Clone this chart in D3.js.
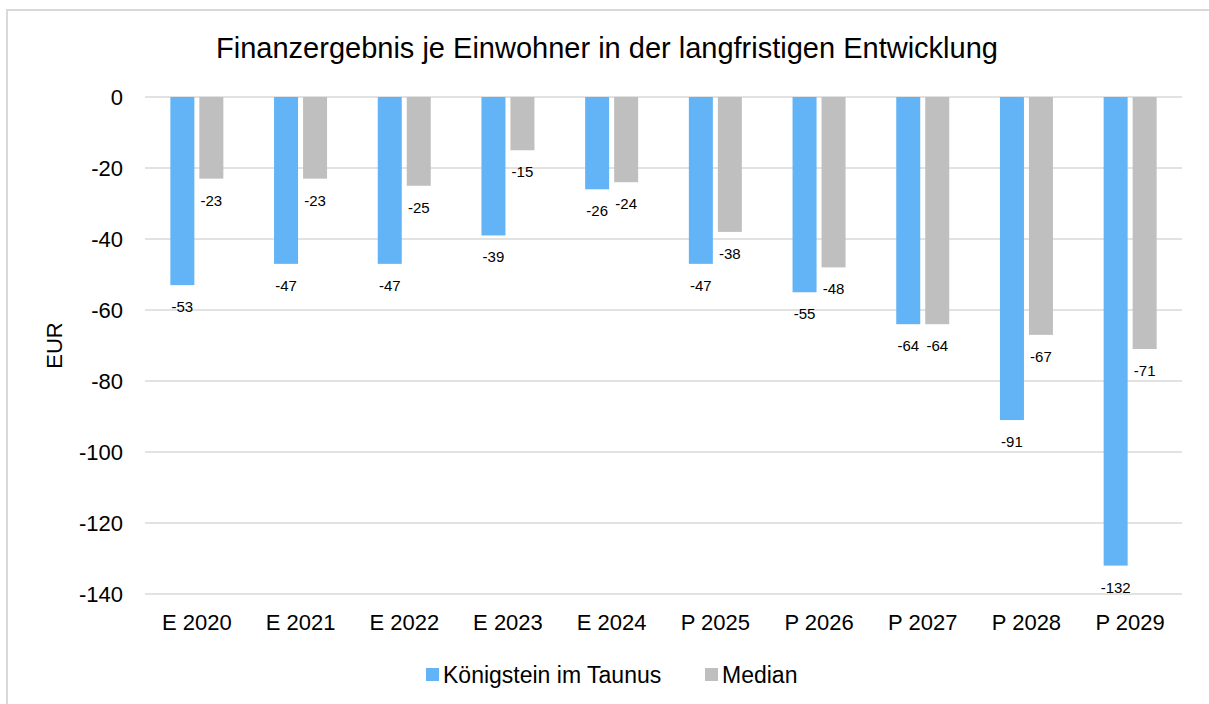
<!DOCTYPE html>
<html>
    <head>
        <meta charset="utf-8">
        <title>Finanzergebnis je Einwohner</title>
        <script src="https://cdn.jsdelivr.net/npm/d3@7"></script>
    </head>

    <style>
        body {
            margin: 0;
            background: #fff;
            font-family: "Liberation Sans", Arial, sans-serif;
        }
        .grid line {
            stroke: #d9d9d9;
            stroke-width: 1.5;
        }
        .tick text {
            fill: #000;
        }
    </style>

    <body>
    <div id="chart"></div>
        <script>
            var categories = ['E 2020', 'E 2021', 'E 2022', 'E 2023', 'E 2024',
                              'P 2025', 'P 2026', 'P 2027', 'P 2028', 'P 2029'];
            var seriesNames = ['Königstein im Taunus', 'Median'];
            var koenigstein = [-53, -47, -47, -39, -26, -47, -55, -64, -91, -132];
            var median = [-23, -23, -25, -15, -24, -38, -48, -64, -67, -71];
            var yTicks = [0, -20, -40, -60, -80, -100, -120, -140];

            (function(d3) {
                'use strict';

                var width = 1209;
                var height = 704;
                var colors = ['#63b4f6', '#bfbfbf'];
                var values = [koenigstein, median];

                var plot = { left: 145, right: 1182, top: 97, bottom: 594 };

                var svg = d3.select('#chart')
                    .append('svg')
                    .attr('width', width)
                    .attr('height', height);

                // outer frame
                svg.append('rect')
                    .attr('x', 7)
                    .attr('y', 10)
                    .attr('width', 1210)
                    .attr('height', 710)
                    .attr('fill', 'none')
                    .attr('stroke', '#d9d9d9')
                    .attr('stroke-width', 2);

                svg.append('text')
                    .attr('x', 607)
                    .attr('y', 58)
                    .attr('text-anchor', 'middle')
                    .style('font-size', '29px')
                    .text('Finanzergebnis je Einwohner in der langfristigen Entwicklung');

                var x = d3.scaleBand()
                    .domain(categories)
                    .range([plot.left, plot.right]);

                var x1 = d3.scaleBand()
                    .domain(seriesNames)
                    .range([0, 53])
                    .paddingInner(0.1724);

                var y = d3.scaleLinear()
                    .domain([-140, 0])
                    .range([plot.bottom, plot.top]);

                // gridlines
                svg.append('g')
                    .attr('class', 'grid')
                    .selectAll('line')
                    .data(yTicks)
                    .enter()
                    .append('line')
                    .attr('x1', plot.left)
                    .attr('x2', plot.right)
                    .attr('y1', function(d) { return y(d); })
                    .attr('y2', function(d) { return y(d); });

                // y axis labels (plain hyphen minus, like the original)
                var yAxis = svg.append('g')
                    .attr('transform', 'translate(' + (plot.left - 22) + ',0)')
                    .call(d3.axisLeft(y).tickValues(yTicks).tickSize(0).tickPadding(0)
                        .tickFormat(function(d) { return String(d); }));
                yAxis.select('.domain').remove();
                yAxis.selectAll('text')
                    .style('font-size', '22px')
                    .style('font-family', '"Liberation Sans", Arial, sans-serif');

                // x axis labels
                var xAxis = svg.append('g')
                    .attr('transform', 'translate(0,' + (plot.bottom + 20) + ')')
                    .call(d3.axisBottom(x).tickSize(0).tickPadding(0));
                xAxis.select('.domain').remove();
                xAxis.selectAll('text')
                    .attr('dy', '0.71em')
                    .style('font-size', '22px')
                    .style('font-family', '"Liberation Sans", Arial, sans-serif');

                svg.append('text')
                    .attr('transform', 'translate(62,' + ((plot.top + plot.bottom) / 2) + ') rotate(-90)')
                    .attr('text-anchor', 'middle')
                    .style('font-size', '22px')
                    .text('EUR');

                var groups = svg.selectAll('.group')
                    .data(categories)
                    .enter()
                    .append('g')
                    .attr('class', 'group')
                    .attr('transform', function(d) {
                        return 'translate(' + (x(d) + (x.bandwidth() - 53) / 2) + ',0)';
                    });

                seriesNames.forEach(function(name, s) {
                    groups.append('rect')
                        .attr('x', x1(name))
                        .attr('width', x1.bandwidth())
                        .attr('y', y(0))
                        .attr('height', function(d, i) { return y(values[s][i]) - y(0); })
                        .attr('fill', colors[s]);

                    groups.append('text')
                        .attr('x', x1(name) + x1.bandwidth() / 2)
                        .attr('y', function(d, i) { return y(values[s][i]) + 27; })
                        .attr('text-anchor', 'middle')
                        .style('font-size', '15px')
                        .text(function(d, i) { return values[s][i]; });
                });

                // legend
                var legendItems = [
                    { name: seriesNames[0], x: 426, color: colors[0] },
                    { name: seriesNames[1], x: 705, color: colors[1] }
                ];
                var legend = svg.selectAll('.legend')
                    .data(legendItems)
                    .enter()
                    .append('g')
                    .attr('class', 'legend')
                    .attr('transform', function(d) { return 'translate(' + d.x + ',668)'; });

                legend.append('rect')
                    .attr('width', 13)
                    .attr('height', 13)
                    .attr('fill', function(d) { return d.color; });

                legend.append('text')
                    .attr('x', 17)
                    .attr('y', 15)
                    .style('font-size', '23px')
                    .text(function(d) { return d.name; });

            })(window.d3);
        </script>
    </body>
</html>
